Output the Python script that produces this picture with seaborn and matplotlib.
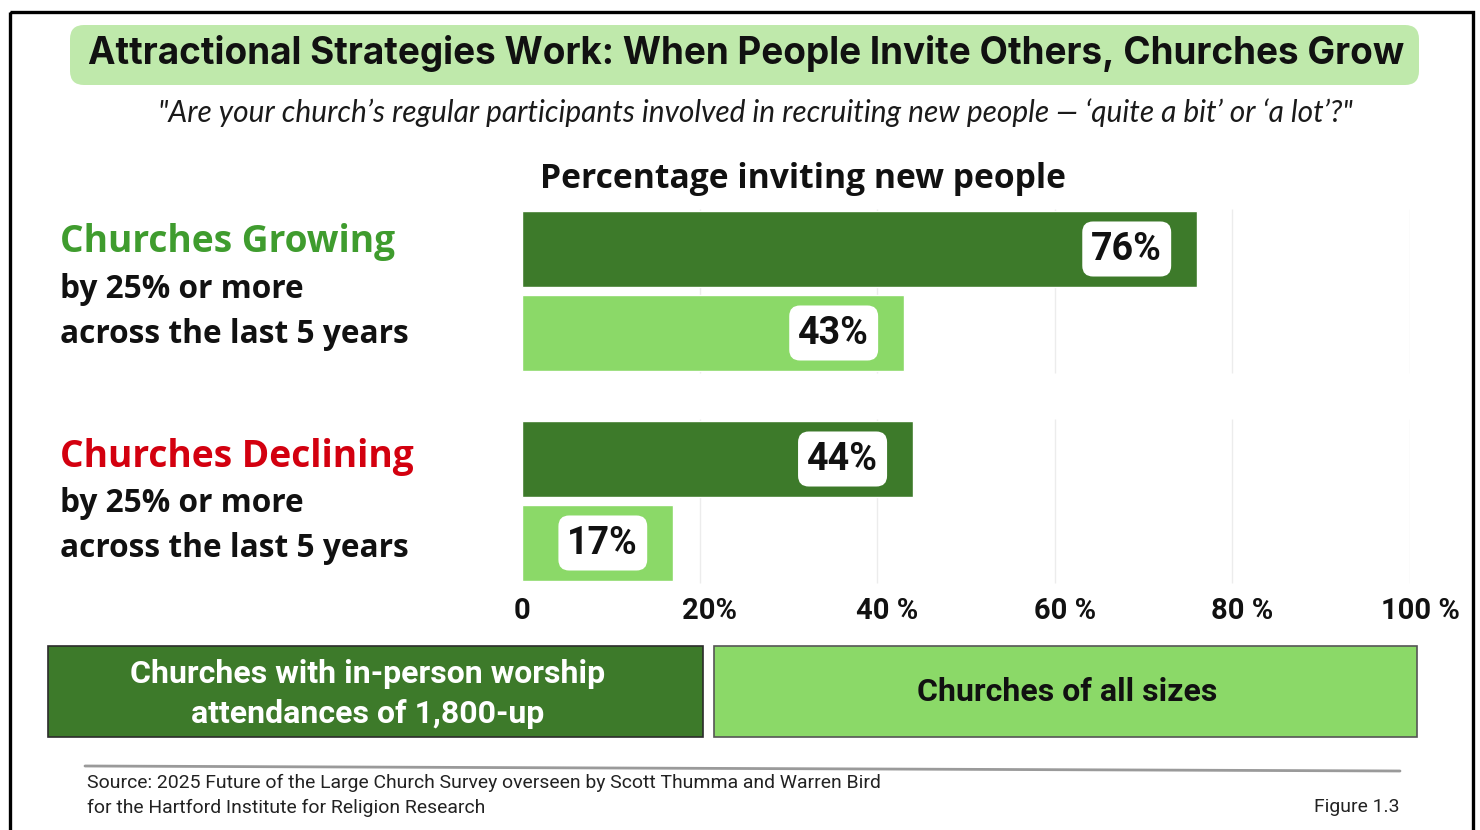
import matplotlib
matplotlib.use("Agg")
import matplotlib.pyplot as plt
from matplotlib.patches import FancyBboxPatch, Rectangle
import pandas as pd
import seaborn as sns

# ---- data -------------------------------------------------------------
groups = ["Churches Growing", "Churches Declining"]
group_notes = ["by 25% or more", "across the last 5 years"]
church_sizes = ["Churches with in-person worship\nattendances of 1,800-up",
                "Churches of all sizes"]
pct_large = [76, 44]     # churches with 1,800+ in-person attendance
pct_all = [43, 17]       # churches of all sizes
tick_values = [0, 20, 40, 60, 80, 100]
tick_labels = ["0", "20%", "40 %", "60 %", "80 %", "100 %"]

title = "Attractional Strategies Work: When People Invite Others, Churches Grow"
subtitle = ('"Are your church\u2019s regular participants involved in recruiting '
            'new people \u2014 \u2018quite a bit\u2019 or \u2018a lot\u2019?"')
heading = "Percentage inviting new people"
source_lines = ["Source: 2025 Future of the Large Church Survey overseen by Scott Thumma and Warren Bird",
                "for the Hartford Institute for Religion Research"]
figure_no = "Figure 1.3"

df = pd.DataFrame({
    "group": groups * 2,
    "size": [church_sizes[0]] * len(groups) + [church_sizes[1]] * len(groups),
    "pct": pct_large + pct_all,
})

# ---- style ------------------------------------------------------------
DARK = "#3d7a2a"
LIGHT = "#8bd968"
TITLE_BG = "#bfe9ab"
GREEN_TXT = "#3f9c2e"
RED_TXT = "#d3000f"
GRID = "#ececec"

sns.set_style("white")
plt.rcParams["font.family"] = ["Roboto", "DejaVu Sans"]

W, H = 1480, 830
fig = plt.figure(figsize=(W / 100, H / 100), dpi=100)
renderer = fig.canvas.get_renderer()

# full-figure layer in pixel units for the frame, banners and text
bg = fig.add_axes([0, 0, 1, 1])
bg.set_xlim(0, W)
bg.set_ylim(H, 0)
bg.axis("off")
bg.set_zorder(0)


def fit(t, width):
    """Scale a text's font size so it spans the given width in pixels."""
    bb = t.get_window_extent(renderer)
    t.set_fontsize(t.get_fontsize() * width / bb.width)
    return t.get_fontsize()


def put(x, y, s, width=None, size=20, ha="left", va="baseline", **kw):
    t = bg.text(x, y, s, fontsize=size, ha=ha, va=va, **kw)
    if width:
        fit(t, width)
    return t


# outer frame
bg.add_patch(Rectangle((10, 12), 1463, 840, fill=False, ec="black", lw=2.4))

# title banner
bg.add_patch(FancyBboxPatch((70, 25), 1349, 60,
                            boxstyle="round,pad=0,rounding_size=14",
                            fc=TITLE_BG, ec="none"))
put(746, 64, title, width=1318, ha="center", family=["Inter", "DejaVu Sans"],
    fontweight="bold", color="#111111")
put(755, 122, subtitle, width=1195, ha="center", family=["Lato", "DejaVu Sans"],
    style="italic", color="#1a1a1a")
put(803, 188, heading, width=527, ha="center", family=["Open Sans", "DejaVu Sans"],
    fontweight="bold", color="#111111")

# group labels on the left
head_t = put(60, 467, groups[1], width=355, family=["Open Sans", "DejaVu Sans"],
             fontweight="bold", color=RED_TXT)
head_fs = head_t.get_fontsize()
put(60, 252, groups[0], size=head_fs, family=["Open Sans", "DejaVu Sans"],
    fontweight="bold", color=GREEN_TXT)
note_t = put(60, 343, group_notes[1], width=348, family=["Open Sans", "DejaVu Sans"],
             fontweight="bold", color="#111111")
note_fs = note_t.get_fontsize()
put(60, 298, group_notes[0], size=note_fs, family=["Open Sans", "DejaVu Sans"],
    fontweight="bold", color="#111111")
put(60, 512, group_notes[0], size=note_fs, family=["Open Sans", "DejaVu Sans"],
    fontweight="bold", color="#111111")
put(60, 557, group_notes[1], size=note_fs, family=["Open Sans", "DejaVu Sans"],
    fontweight="bold", color="#111111")

# ---- bar chart --------------------------------------------------------
ax = fig.add_axes([522 / W, 1 - 585 / H, 888 / W, 378 / H])
ax.set_zorder(1)
ax.patch.set_alpha(0)

sns.barplot(data=df, x="pct", y="group", hue="size", orient="h",
            palette=[DARK, LIGHT], saturation=1, width=0.8, gap=0.1,
            legend=False, ax=ax)

ax.set_xlim(0, 100)
ax.set_ylim(len(groups) - 0.6, -0.4)
for i in range(len(groups)):
    ax.vlines(tick_values[1:], i - 0.39, i + 0.39, color=GRID, lw=1, zorder=0.5)
for s in ax.spines.values():
    s.set_visible(False)
ax.set_yticks([])
ax.set_xticks([])
ax.set_xlabel("")
ax.set_ylabel("")

# axis labels: the number part sits centred on its grid line
for v, lab in zip(tick_values, tick_labels):
    dx = 10 if "%" in lab else 0
    ax.annotate(lab, xy=(v, 0), xycoords=("data", "axes fraction"),
                xytext=(dx, -34), textcoords="offset pixels",
                ha="center", va="baseline", fontsize=21, fontweight="bold",
                family=["Roboto", "DejaVu Sans"], color="#111111")

# value labels in white rounded tags near the end of each bar
probe = ax.text(0, 0, "76%", fontsize=20, fontweight="bold", family=["Roboto", "DejaVu Sans"])
lab_fs = fit(probe, 71)
probe.remove()
pad = 9 / (lab_fs * 100 / 72)
for container in ax.containers:
    for bar in container:
        w = bar.get_width()
        y = bar.get_y() + bar.get_height() / 2
        ax.text(w - 7.9, y, f"{w:.0f}%", ha="center", va="center",
                fontsize=lab_fs, fontweight="bold", family=["Roboto", "DejaVu Sans"],
                color="#111111", zorder=5,
                bbox=dict(boxstyle=f"round,pad={pad:.3f},rounding_size={pad * 1.2:.3f}",
                          fc="white", ec="none"))

# ---- colour key --------------------------------------------------------
bg.add_patch(Rectangle((48, 646), 655, 91, fc=DARK, ec="#2b2b2b", lw=1.2))
bg.add_patch(Rectangle((714, 646), 703, 91, fc=LIGHT, ec="#555555", lw=1.2))
key_lines = church_sizes[0].split("\n")
k1 = put(368, 683, key_lines[0], width=473, ha="center",
         family=["Roboto", "DejaVu Sans"], fontweight="bold", color="white")
put(368, 723, key_lines[1], size=k1.get_fontsize(), ha="center",
    family=["Roboto", "DejaVu Sans"], fontweight="bold", color="white")
put(1067, 701, church_sizes[1], size=k1.get_fontsize(), ha="center",
    family=["Roboto", "DejaVu Sans"], fontweight="bold", color="#111111")

# ---- footer ------------------------------------------------------------
bg.plot([85, 1400], [766, 771], color="#9a9a9a", lw=2)
src = put(87, 788, source_lines[0], width=791,
          family=["Liberation Sans Narrow", "Roboto", "DejaVu Sans"], color="#222222")
put(87, 813, source_lines[1], size=src.get_fontsize(),
    family=["Liberation Sans Narrow", "Roboto", "DejaVu Sans"], color="#222222")
put(1400, 812, figure_no, size=src.get_fontsize(), ha="right",
    family=["Liberation Sans Narrow", "Roboto", "DejaVu Sans"], color="#222222")

fig.savefig("out.png", dpi=100, facecolor="white")
